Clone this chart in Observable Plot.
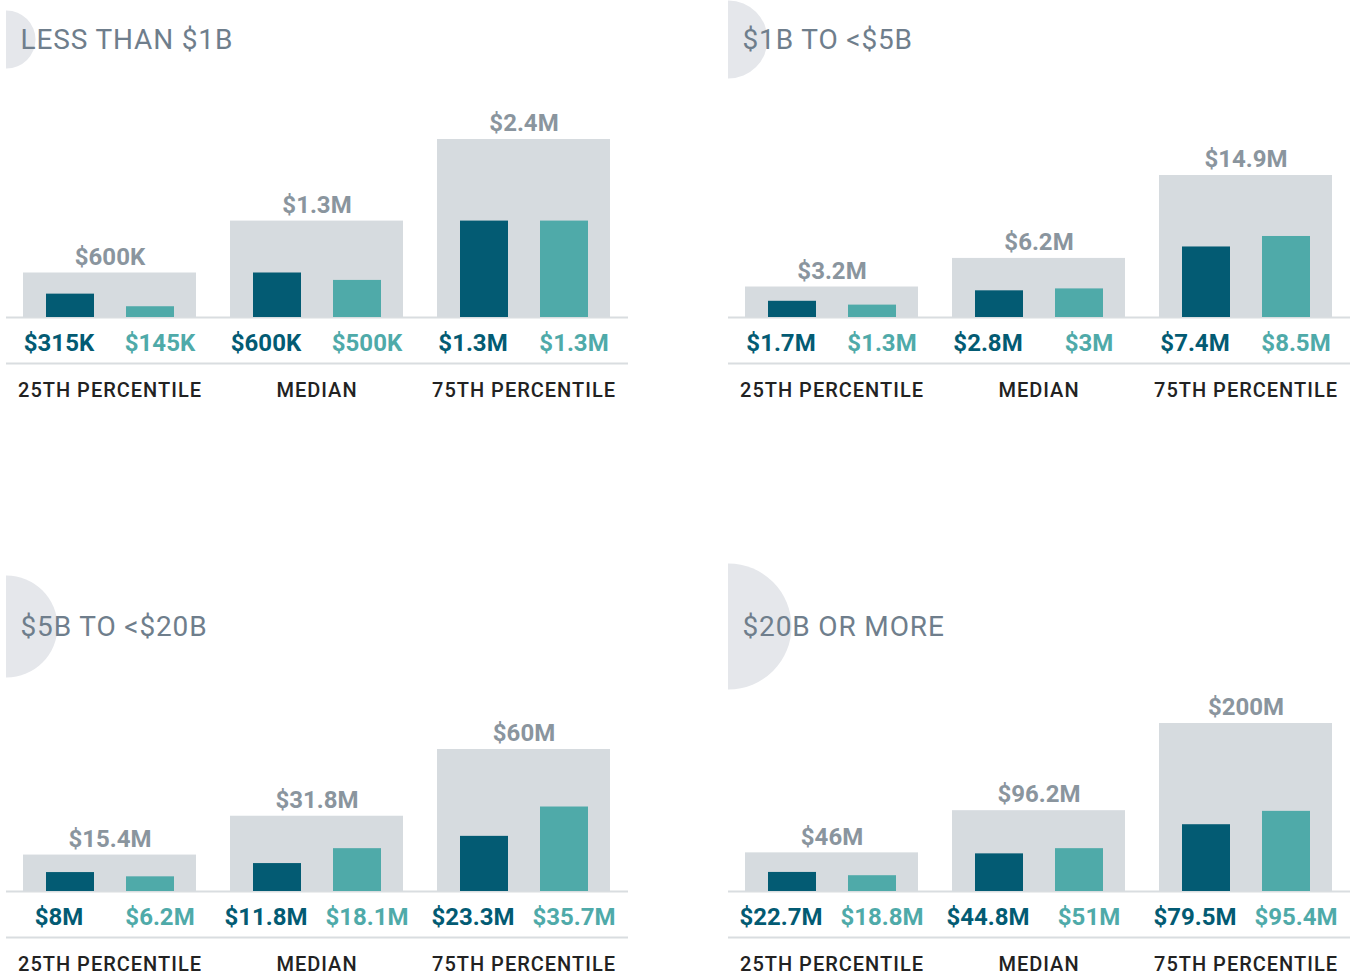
<!DOCTYPE html>
<html>
<head>
<meta charset="utf-8">
<script src="https://cdn.jsdelivr.net/npm/d3@7"></script>
<script src="https://cdn.jsdelivr.net/npm/@observablehq/plot@0.6"></script>
<style>
  html, body { margin: 0; padding: 0; background: #ffffff; }
  body { width: 1355px; height: 972px; position: relative; overflow: hidden; font-family: Roboto, sans-serif; }
  .panel { position: absolute; }
  .panel svg { overflow: hidden; }
</style>
</head>
<body>
<script>
// ---- data (values in $ millions) ----
const panelTitles = ["LESS THAN $1B", "$1B TO <$5B", "$5B TO <$20B", "$20B OR MORE"];
const percentiles = ["25TH PERCENTILE", "MEDIAN", "75TH PERCENTILE"];
const totalValues = [
  [0.6, 1.3, 2.4],
  [3.2, 6.2, 14.9],
  [15.4, 31.8, 60],
  [46, 96.2, 200]
];
const seriesAValues = [
  [0.315, 0.6, 1.3],
  [1.7, 2.8, 7.4],
  [8, 11.8, 23.3],
  [22.7, 44.8, 79.5]
];
const seriesBValues = [
  [0.145, 0.5, 1.3],
  [1.3, 3, 8.5],
  [6.2, 18.1, 35.7],
  [18.8, 51, 95.4]
];

// ---- layout ----
const layout = [
  {left: 6,   top: 0,   height: 420, titleY: 40, baseY: 317, barPx: 178, badgeR: 29, badgeY: 39},
  {left: 728, top: 0,   height: 420, titleY: 40, baseY: 317, barPx: 142, badgeR: 39, badgeY: 39},
  {left: 6,   top: 540, height: 432, titleY: 87, baseY: 351, barPx: 142, badgeR: 51, badgeY: 86},
  {left: 728, top: 540, height: 432, titleY: 87, baseY: 351, barPx: 168, badgeR: 63, badgeY: 86}
];

const colA = "#035b73", colB = "#4faaa9", colTotal = "#d6dbdf", colTotalText = "#8a959e";
const fmt = v => v < 1 ? `$${Math.round(v * 1000)}K` : `$${+v.toFixed(1)}M`;

panelTitles.forEach((title, i) => {
  const L = layout[i];
  const rows = percentiles.map((p, j) => ({
    pct: p, total: totalValues[i][j], a: seriesAValues[i][j], b: seriesBValues[i][j]
  }));
  const W = 622;
  const marginTop = 100;
  const marginBottom = L.height - L.baseY;
  const frameH = L.baseY - marginTop;
  const yMax = d3.max(totalValues[i]) * frameH / L.barPx;

  const chart = Plot.plot({
    width: W,
    height: L.height,
    marginLeft: 0, marginRight: 0, marginTop, marginBottom,
    style: {fontFamily: "Roboto, sans-serif", overflow: "hidden", background: "transparent"},
    x: {domain: percentiles, range: [16.5, 604.5], paddingInner: 34.5 / 207.5, paddingOuter: 0, axis: null},
    y: {domain: [0, yMax], axis: null},
    marks: [
      Plot.dot([title], {frameAnchor: "top-left", dy: L.badgeY - marginTop, r: L.badgeR, fill: "#e5e7eb", stroke: null}),
      Plot.text([title], {frameAnchor: "top-left", text: d => d, dx: 14, dy: L.titleY - marginTop,
        textAnchor: "start", lineAnchor: "middle", fontSize: 28, fontWeight: 400, fill: "#6f7e8c"}),
      Plot.ruleY([0], {stroke: "#d9dde0", strokeWidth: 2}),
      Plot.ruleY([0], {dy: 46, stroke: "#d9dde0", strokeWidth: 2}),
      Plot.barY(rows, {x: "pct", y: "total", fill: colTotal}),
      Plot.barY(rows, {x: "pct", y: "a", fill: colA, insetLeft: 23, insetRight: 102}),
      Plot.barY(rows, {x: "pct", y: "b", fill: colB, insetLeft: 103, insetRight: 22}),
      Plot.text(rows, {x: "pct", y: "total", text: d => fmt(d.total), dy: -16, lineAnchor: "middle",
        fontSize: 24, fontWeight: 700, fill: colTotalText}),
      Plot.text(rows, {x: "pct", y: () => 0, text: d => fmt(d.a), dx: -51, dy: 26, lineAnchor: "middle",
        fontSize: 24, fontWeight: 700, fill: colA}),
      Plot.text(rows, {x: "pct", y: () => 0, text: d => fmt(d.b), dx: 50, dy: 26, lineAnchor: "middle",
        fontSize: 24, fontWeight: 700, fill: colB}),
      Plot.text(rows, {x: "pct", y: () => 0, text: "pct", dy: 73, lineAnchor: "middle",
        fontSize: 20, fontWeight: 500, fill: "#222222"})
    ]
  });
  // letter spacing for title and category labels
  chart.querySelectorAll('g[font-size="28"]').forEach(g => g.style.letterSpacing = "0.85px");
  chart.querySelectorAll('g[font-size="20"]').forEach(g => g.style.letterSpacing = "1.0px");
  const div = document.createElement("div");
  div.className = "panel";
  div.style.left = L.left + "px";
  div.style.top = L.top + "px";
  div.appendChild(chart);
  document.body.appendChild(div);
});
</script>
</body>
</html>
